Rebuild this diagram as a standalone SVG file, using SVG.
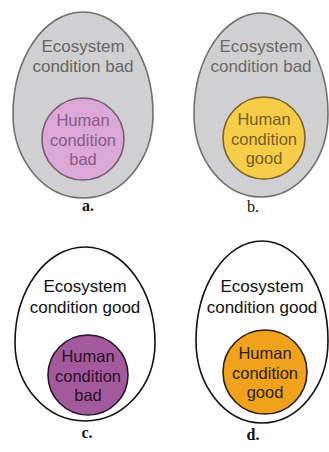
<svg xmlns="http://www.w3.org/2000/svg" width="329" height="452" viewBox="0 0 329 452">
<style>
.t{font-family:"Liberation Sans",Arial,sans-serif;font-size:17px;text-anchor:middle}
.h{font-family:"Liberation Sans",Arial,sans-serif;font-size:16.5px;text-anchor:middle}
.l{font-family:"Liberation Serif","Times New Roman",serif;font-size:16px;font-weight:bold;text-anchor:middle;fill:#111}
.eg{fill:#d0cfd1;stroke:#707070;stroke-width:1.6}
.ew{fill:#ffffff;stroke:#111111;stroke-width:1.6}
</style>
<rect width="329" height="452" fill="#ffffff"/>
<g id="panel-a">
<path class="eg" d="M83,12 C121.66,12 153,57.8 153,114.3 C153,160.5 121.66,198 83,198 C44.34,198 13,160.5 13,114.3 C13,57.8 44.34,12 83,12Z"/>
<text class="t" x="83" y="52" fill="#666666">Ecosystem</text>
<text class="t" x="83" y="72" fill="#666666">condition bad</text>
<circle cx="83" cy="139" r="41" fill="#dba8d8" stroke="#7a5a78" stroke-width="1.6"/>
<text class="h" x="83" y="126" fill="#8a5a86">Human</text>
<text class="h" x="83" y="146" fill="#8a5a86">condition</text>
<text class="h" x="83" y="165" fill="#8a5a86">bad</text>
<text class="l" x="88" y="211">a.</text>
</g>
<g id="panel-b">
<path class="eg" d="M261,13 C298,13 328,58.3 328,114.2 C328,159.9 298,197 261,197 C224,197 194,159.9 194,114.2 C194,58.3 224,13 261,13Z"/>
<text class="t" x="261" y="52" fill="#6a6a6a">Ecosystem</text>
<text class="t" x="261" y="72" fill="#6a6a6a">condition bad</text>
<circle cx="264" cy="138" r="41" fill="#f6cd48" stroke="#7a6030" stroke-width="1.6"/>
<text class="h" x="264" y="125" fill="#7a5c28">Human</text>
<text class="h" x="264" y="145" fill="#7a5c28">condition</text>
<text class="h" x="264" y="164" fill="#7a5c28">good</text>
<text class="l" x="253" y="212" style="font-weight:normal">b.</text>
</g>
<g id="panel-c">
<path class="ew" d="M85,247 C123.66,247 155,289.8 155,342.7 C155,385.9 123.66,421 85,421 C46.34,421 15,385.9 15,342.7 C15,289.8 46.34,247 85,247Z"/>
<text class="t" x="85" y="292" fill="#111111">Ecosystem</text>
<text class="t" x="85" y="313" fill="#111111">condition good</text>
<circle cx="88" cy="375" r="40" fill="#a25a9c" stroke="#2a1428" stroke-width="1.6"/>
<text class="h" x="88" y="362" fill="#2a1028">Human</text>
<text class="h" x="88" y="382" fill="#2a1028">condition</text>
<text class="h" x="88" y="401" fill="#2a1028">bad</text>
<text class="l" x="87" y="438">c.</text>
</g>
<g id="panel-d">
<path class="ew" d="M262,241 C298.45,241 328,285.8 328,341.1 C328,386.3 298.45,423 262,423 C225.55,423 196,386.3 196,341.1 C196,285.8 225.55,241 262,241Z"/>
<text class="t" x="262" y="292" fill="#111111">Ecosystem</text>
<text class="t" x="262" y="313" fill="#111111">condition good</text>
<circle cx="265" cy="372" r="42" fill="#f0a21c" stroke="#2a1e0c" stroke-width="1.6"/>
<text class="h" x="265" y="359" fill="#2a1e0c">Human</text>
<text class="h" x="265" y="379" fill="#2a1e0c">condition</text>
<text class="h" x="265" y="398" fill="#2a1e0c">good</text>
<text class="l" x="253" y="440">d.</text>
</g>
</svg>
